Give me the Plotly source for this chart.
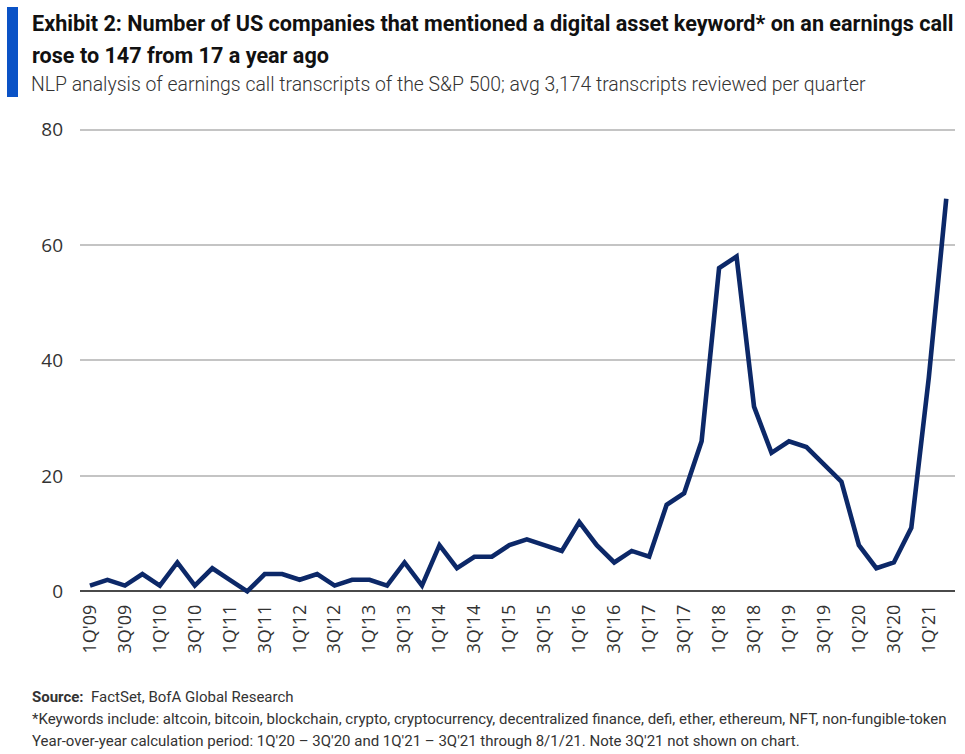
import plotly.graph_objects as go

quarters = [f"{q}Q'{y:02d}" for y in range(9, 22) for q in (1, 2, 3, 4)][:50]
values = [1, 2, 1, 3, 1, 5, 1, 4, 2, 0,
          3, 3, 2, 3, 1, 2, 2, 1, 5, 1,
          8, 4, 6, 6, 8, 9, 8, 7, 12, 8,
          5, 7, 6, 15, 17, 26, 56, 58, 32, 24,
          26, 25, 22, 19, 8, 4, 5, 11, 37, 68]
tick_idx = list(range(0, 50, 2))
tick_text = [quarters[i] for i in tick_idx]
y_ticks = [0, 20, 40, 60, 80]

title_line1 = "Exhibit 2: Number of US companies that mentioned a digital asset keyword* on an earnings call"
title_line2 = "rose to 147 from 17 a year ago"
subtitle = "NLP analysis of earnings call transcripts of the S&P 500; avg 3,174 transcripts reviewed per quarter"
source = "<b>Source:</b>  FactSet, BofA Global Research"
note1 = "*Keywords include: altcoin, bitcoin, blockchain, crypto, cryptocurrency, decentralized finance, defi, ether, ethereum, NFT, non-fungible-token"
note2 = "Year-over-year calculation period: 1Q'20 \u2013 3Q'20 and 1Q'21 \u2013 3Q'21 through 8/1/21. Note 3Q'21 not shown on chart."

NARROW = "Roboto, sans-serif"

fig = go.Figure()
fig.add_trace(go.Scatter(
    x=list(range(len(values))), y=values, mode="lines",
    line=dict(color="#0c2868", width=4.6), hoverinfo="skip", showlegend=False,
))

fig.update_layout(
    width=965, height=754,
    margin=dict(l=80, r=10, t=118, b=154),
    paper_bgcolor="white", plot_bgcolor="white",
    xaxis=dict(
        range=[-0.57, 49.5], tickvals=tick_idx, ticktext=tick_text,
        tickangle=-90, showgrid=False, zeroline=False, showline=False,
        tickfont=dict(family="Open Sans", size=18, color="#333333"),
        ticks="", fixedrange=True,
    ),
    yaxis=dict(
        range=[-1.5, 82], tickvals=y_ticks, showgrid=True,
        gridcolor="#c4c4c4", gridwidth=2,
        zeroline=True, zerolinecolor="#4a4a4a", zerolinewidth=2,
        showline=False, ticks="", ticklabelstandoff=16,
        tickfont=dict(family="Open Sans", size=19, color="#333333"),
    ),
    shapes=[dict(type="rect", xref="paper", yref="paper",
                 x0=-73/875, x1=-62/875, y0=(600-97)/482, y1=(600-7)/482,
                 fillcolor="#0a52c6", line=dict(width=0))],
)

def ann(text, x, y, size, bold=False, family=NARROW, color="#111111", weight=None):
    f = dict(family=family, size=size, color=color)
    if weight:
        f["weight"] = weight
    fig.add_annotation(
        text=f"<b>{text}</b>" if bold else text,
        xref="paper", yref="paper",
        x=(x - 80) / 875, y=(600 - y) / 482,
        xanchor="left", yanchor="middle", showarrow=False,
        font=f, align="left",
    )

ann(title_line1, 30, 23, 21.6, bold=True)
ann(title_line2, 30, 55, 21.6, bold=True)
ann(subtitle, 29, 84, 19.4, color="#333333", weight=300)
ann(source, 30, 697, 15, color="#333333")
ann(note1, 30, 719, 15, color="#333333")
ann(note2, 30, 741, 15, color="#333333")

fig.write_html("out.html")
